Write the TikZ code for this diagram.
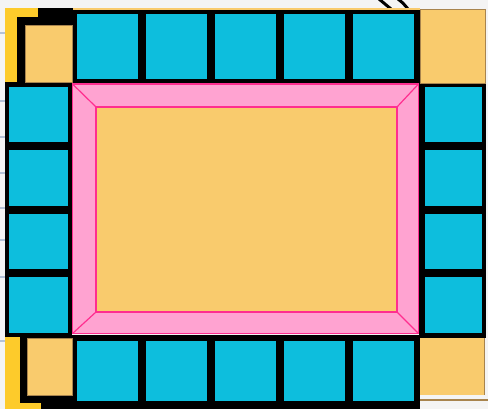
\documentclass[tikz,border=0pt]{standalone}
\usepackage{tikz}
\definecolor{tileblue}{HTML}{0DBEDD}
\definecolor{cornerorange}{HTML}{F9CB6D}
\definecolor{stripyellow}{HTML}{FDCB2B}
\definecolor{framepink}{HTML}{FFA3D1}
\definecolor{edgepink}{HTML}{FF2E8F}
\definecolor{bggray}{HTML}{F4F4F4}
\definecolor{tanedge}{HTML}{A8844E}
\definecolor{tickblue}{HTML}{B4C2D8}
\tikzset{
  tile/.style={fill=tileblue, draw=black, line width=3pt},
  corner/.style={fill=cornerorange, draw=tanedge, line width=0.8pt},
  pinkedge/.style={draw=edgepink, line width=1.6pt},
}
\begin{document}
\begin{tikzpicture}[x=1pt,y=-1pt]
\useasboundingbox (0,0) rectangle (488,409);
\fill[bggray] (0,0) rectangle (488,409);
% faint background ticks at left edge
\foreach \yy in {33,101,137,173,208,240,277,341} \draw[tickblue, line width=1.2pt] (0,\yy) -- (5,\yy);
% dark strokes in the top strip
\draw[black, line width=3pt] (379,-1) -- (391,9);
\draw[black, line width=3pt] (398,-1) .. controls (403,3) .. (408,9);
% black backing of the board
\fill[black] (17,8) rectangle (420,84);
\fill[black] (5,82) rectangle (72,338);
\fill[black] (419,82) rectangle (486,338);
\fill[black] (20,335) rectangle (420,409);
% tan strip on top of top row
\fill[cornerorange] (73,8) rectangle (420,10.5);
% top-left corner
\fill[stripyellow] (5,8) rectangle (38,17);
\fill[stripyellow] (5,8) rectangle (17,82);
\fill[corner] (25,25) rectangle (72,82);
% top-right corner
\fill[corner] (420,9) rectangle (485,83);
\draw[tanedge, line width=1pt] (485,9) -- (485,83);
% bottom-left corner
\fill[stripyellow] (5,337) rectangle (20,409);
\fill[stripyellow] (5,403) rectangle (41,409);
\fill[corner] (27,338) rectangle (72,395);
% bottom-right corner
\fill[cornerorange] (420,338) rectangle (484,395);
\draw[tanedge, line width=1pt] (484,338) -- (484,395);
\fill[bggray] (420,398) rectangle (488,409);
\draw[tanedge, line width=1.5pt] (420,400) -- (488,400);
% top row
\foreach \i in {0,...,4} {
  \pgfmathsetmacro{\xa}{73+69*\i+2.5}
  \pgfmathsetmacro{\xb}{73+69*(\i+1)-2.5}
  \draw[tile] (\xa,13) rectangle (\xb,80.5);
}
% bottom row
\foreach \i in {0,...,4} {
  \pgfmathsetmacro{\xa}{73+69*\i+2.5}
  \pgfmathsetmacro{\xb}{73+69*(\i+1)-2.5}
  \draw[tile] (\xa,339.5) rectangle (\xb,402);
}
% left column
\foreach \i in {0,...,3} {
  \pgfmathsetmacro{\ya}{83+63.5*\i+2.5}
  \pgfmathsetmacro{\yb}{83+63.5*(\i+1)-2.5}
  \draw[tile] (7,\ya) rectangle (69,\yb);
}
% right column
\foreach \i in {0,...,3} {
  \pgfmathsetmacro{\ya}{83+63.5*\i+2.5}
  \pgfmathsetmacro{\yb}{83+63.5*(\i+1)-2.5}
  \draw[tile] (423,\ya) rectangle (483,\yb);
}
% central pink frame
\fill[framepink] (72,83.5) rectangle (419,334);
\draw[pinkedge, line width=1.2pt] (72.5,84) rectangle (418.5,333.5);
\fill[cornerorange] (96,107) rectangle (397,312);
\draw[pinkedge] (96,107) rectangle (397,312);
\draw[pinkedge, line width=1.2pt] (72.5,84) -- (96,107);
\draw[pinkedge, line width=1.2pt] (418.5,84) -- (397,107);
\draw[pinkedge, line width=1.2pt] (72.5,333.5) -- (96,312);
\draw[pinkedge, line width=1.2pt] (418.5,333.5) -- (397,312);
\end{tikzpicture}
\end{document}
